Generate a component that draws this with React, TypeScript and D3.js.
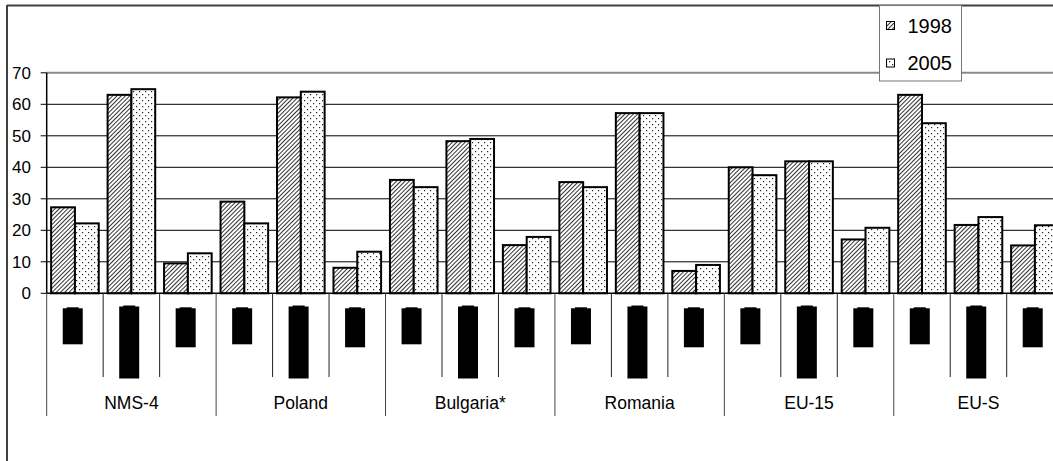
import * as d3 from 'd3'

const groups = ['NMS-4', 'Poland', 'Bulgaria*', 'Romania', 'EU-15', 'EU-S']
const subPerGroup = 3
const seriesNames = ['1998', '2005']
const values1998 = [27.3, 63.0, 9.5, 29.1, 62.2, 8.1, 36.0, 48.3, 15.3, 35.3, 57.2, 7.1, 40.0, 41.9, 17.1, 63.0, 21.7, 15.2]
const values2005 = [22.2, 64.8, 12.7, 22.2, 64.0, 13.2, 33.7, 49.0, 17.9, 33.7, 57.2, 9.0, 37.5, 41.9, 20.8, 54.0, 24.2, 21.6]
const yTicks = [0, 10, 20, 30, 40, 50, 60, 70]
// the sub-category labels came out as solid black blocks; their lengths in px
const subLabelLengths = [37, 73, 40]

export default function App() {
  const width = 1053
  const height = 461
  const left = 46.7
  const step = 56.47
  const y0 = 293.3
  const yTop = 72.8

  const nSub = groups.length * subPerGroup
  const x = d3
    .scaleBand<number>()
    .domain(d3.range(nSub))
    .range([left, left + step * nSub])
  const xs = d3.scaleBand<string>().domain(seriesNames).range([0, step]).paddingOuter(0.186)
  const y = d3.scaleLinear().domain([0, 70]).range([y0, yTop])

  const font = '"Liberation Sans", Arial, sans-serif'
  const fills = ['url(#hatch)', 'url(#dots)']
  const series = [values1998, values2005]

  return (
    <div style={{ position: 'absolute', left: 0, top: 0 }}>
      <svg width={width} height={height} style={{ display: 'block', background: '#fff' }}>
        <defs>
          <pattern id="hatch" width={3} height={3} patternUnits="userSpaceOnUse" patternTransform="rotate(45)">
            <rect width={3} height={3} fill="#fff" />
            <line x1={0.5} y1={0} x2={0.5} y2={3} stroke="#333" strokeWidth={1} />
          </pattern>
          <pattern id="dots" width={6} height={6} patternUnits="userSpaceOnUse">
            <rect width={6} height={6} fill="#fff" />
            <rect x={1} y={1} width={1.2} height={1.2} fill="#222" />
            <rect x={4} y={4} width={1.2} height={1.2} fill="#222" />
          </pattern>
        </defs>

        {/* outer frame (clipped on right/bottom) */}
        <line x1={7} y1={5.5} x2={width} y2={5.5} stroke="#404040" strokeWidth={2} />
        <line x1={7} y1={5} x2={7} y2={height} stroke="#404040" strokeWidth={2} />

        {/* grid */}
        {yTicks.filter(t => t > 0 && t < 70).map(t => (
          <line key={t} x1={left} x2={width} y1={y(t)} y2={y(t)} stroke="#000" strokeWidth={1} />
        ))}
        <line x1={left} x2={width} y1={y(70)} y2={y(70)} stroke="#8a8a8a" strokeWidth={2} />

        {/* y axis */}
        <line x1={left} x2={left} y1={y(70)} y2={y0} stroke="#000" strokeWidth={1.5} />
        {yTicks.map(t => (
          <g key={t}>
            <line x1={left - 6} x2={left} y1={y(t)} y2={y(t)} stroke="#000" strokeWidth={1} />
            <text x={31} y={y(t)} dy="0.35em" textAnchor="end" fontFamily={font} fontSize={17} fill="#000">
              {t}
            </text>
          </g>
        ))}

        {/* bars */}
        {series.map((vals, si) =>
          vals.map((v, i) => (
            <rect
              key={`${si}-${i}`}
              x={(x(i) ?? 0) + (xs(seriesNames[si]) ?? 0)}
              y={y(v)}
              width={xs.bandwidth()}
              height={y0 - y(v)}
              fill={fills[si]}
              stroke="#000"
              strokeWidth={2}
            />
          ))
        )}

        {/* x axis */}
        <line x1={left} x2={width} y1={y0} y2={y0} stroke="#000" strokeWidth={1.5} />
        {d3.range(nSub + 1).map(i => {
          const xx = left + i * step
          const isGroup = i % subPerGroup === 0
          return (
            <line
              key={i}
              x1={xx}
              x2={xx}
              y1={y0}
              y2={isGroup ? 416 : 377}
              stroke={isGroup ? '#444' : '#222'}
              strokeWidth={1}
            />
          )
        })}

        {/* sub-category label blocks */}
        {d3.range(nSub).map(i => {
          const len = subLabelLengths[i % subPerGroup]
          const cx = (x(i) ?? 0) + x.bandwidth() / 2 - 2.2
          const top = i % subPerGroup === 1 ? 305.5 : 307.3
          return (
            <g key={i}>
              <rect x={cx - 10} y={top + 1} width={20} height={len - 1} fill="#000" />
              <rect x={cx - 6} y={top} width={12} height={2} fill="#000" />
            </g>
          )
        })}

        {/* group labels */}
        {groups.map((g, gi) => {
          const cx = left + (gi * subPerGroup + subPerGroup / 2) * step
          return (
            <text key={g} x={cx} y={403} dy="0.35em" textAnchor="middle" fontFamily={font} fontSize={17.5} fill="#000">
              {g}
            </text>
          )
        })}

        {/* legend */}
        <rect x={879.5} y={5.5} width={82} height={75.5} fill="#fff" stroke="#777" strokeWidth={1} />
        {seriesNames.map((s, si) => {
          const cy = si === 0 ? 25.5 : 63
          return (
            <g key={s}>
              <rect x={886.5} y={cy - 4} width={8} height={8} fill={fills[si]} stroke="#000" strokeWidth={1} />
              <text x={907.5} y={cy} dy="0.35em" fontFamily={font} fontSize={20} fill="#000">
                {s}
              </text>
            </g>
          )
        })}
      </svg>
    </div>
  )
}
